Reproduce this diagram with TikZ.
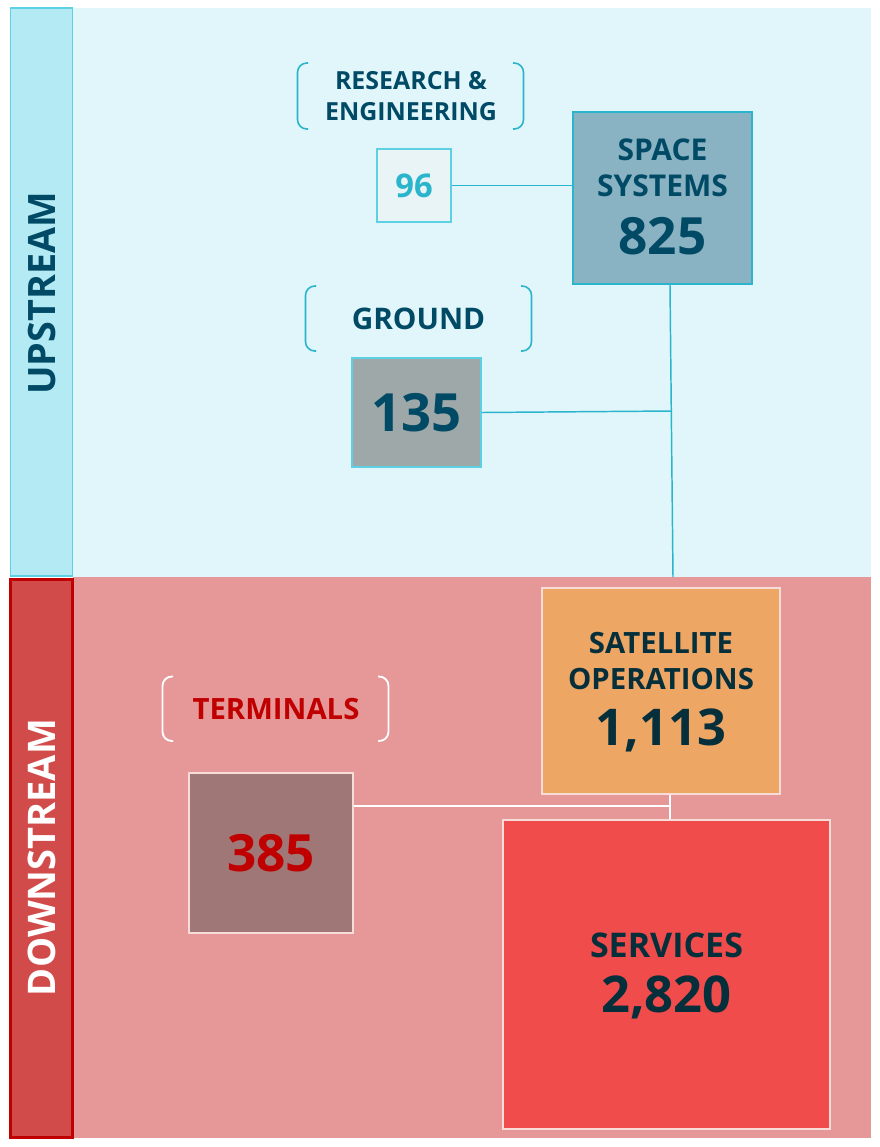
\documentclass[tikz,border=0pt]{standalone}
\usepackage{fontspec}
\setmainfont{Open Sans}
\usetikzlibrary{calc}
\definecolor{upbg}{HTML}{E0F6FA}
\definecolor{upbar}{HTML}{B3EAF3}
\definecolor{upbarline}{HTML}{5DD0E4}
\definecolor{lowbg}{HTML}{E69797}
\definecolor{downbar}{HTML}{D24B4B}
\definecolor{downbarline}{HTML}{C00000}
\definecolor{teal}{HTML}{2AB5CC}
\definecolor{darkteal}{HTML}{004A66}
\definecolor{navy}{HTML}{062F3C}
\definecolor{redtxt}{HTML}{C00000}
\definecolor{rfill}{HTML}{E8F4F6}
\definecolor{ssfill}{HTML}{89B3C3}
\definecolor{gfill}{HTML}{9EA8A8}
\definecolor{sofill}{HTML}{EEA665}
\definecolor{tfill}{HTML}{A07777}
\definecolor{svfill}{HTML}{F04C4C}
\definecolor{pale}{HTML}{F7DCD8}
\tikzset{
  boxnode/.style={rectangle, inner sep=0pt, align=center},
  upline/.style={draw=teal, line width=1.1pt},
  downline/.style={draw=white, line width=1.6pt},
  bracketup/.style={draw=teal, line width=1.2pt, rounded corners=7pt},
  bracketdown/.style={draw=white, line width=1.4pt, rounded corners=7pt},
  lbl/.style={text=darkteal, align=center}
}
\begin{document}
\begin{tikzpicture}[x=0.75pt,y=-0.75pt]
\useasboundingbox (0,0) rectangle (880,1147);
\fill[white] (0,0) rectangle (880,1147);
% backgrounds
\fill[upbg] (73,8) rectangle (871,577);
\fill[lowbg] (73,577) rectangle (871,1138);
\node[boxnode, fill=upbar, draw=upbarline, line width=1.2pt, minimum width={62*0.75pt}, minimum height={568*0.75pt}] (upbar) at (41.5,292) {};
\node[rotate=90, font=\bfseries\fontsize{28.3}{30}\selectfont, text=darkteal] (uptxt) at (42,293.5) {UPSTREAM};
\node[boxnode, fill=downbar, draw=downbarline, line width=1.6pt, minimum width={62*0.75pt}, minimum height={558*0.75pt}] (downbar) at (41.5,858.5) {};
\node[rotate=90, font=\bfseries\fontsize{28.5}{30}\selectfont, text=white] (downtxt) at (42,857.5) {DOWNSTREAM};
% research & engineering
\draw[bracketup] (308,63) -- (297.5,63) -- (297.5,129) -- (308,129);
\draw[bracketup] (513,63) -- (523.5,63) -- (523.5,129) -- (513,129);
\node[lbl, font=\bfseries\fontsize{18.7}{23.5}\selectfont] (rtxt) at (411,96) {RESEARCH \&\\ENGINEERING};
\node[boxnode, fill=rfill, draw=upbarline, line width=0.8pt, minimum width={74*0.75pt}, minimum height={73*0.75pt}, font=\bfseries\fontsize{24.5}{28}\selectfont, text=teal] (r) at (414,185.5) {96};
% space systems
\node[boxnode, fill=ssfill, draw=teal, line width=1.5pt, minimum width={179*0.75pt}, minimum height={172*0.75pt}] (ss) at (662.5,198) {};
\node[font=\bfseries\fontsize{22.5}{27}\selectfont, text=darkteal, align=center] (sstxt) at (662.5,168) {SPACE\\SYSTEMS};
\node[font=\bfseries\fontsize{38.5}{40}\selectfont, text=darkteal] (ssnum) at (662.5,236) {825};
% ground
\draw[bracketup] (316,286) -- (305.5,286) -- (305.5,351) -- (316,351);
\draw[bracketup] (521,286) -- (531.5,286) -- (531.5,351) -- (521,351);
\node[lbl, font=\bfseries\fontsize{22.3}{24}\selectfont] (gtxt) at (418.5,319) {GROUND};
\node[boxnode, fill=gfill, draw=upbarline, line width=0.8pt, minimum width={129*0.75pt}, minimum height={109*0.75pt}, font=\bfseries\fontsize{39.5}{40}\selectfont, text=darkteal] (g) at (416.5,412.5) {135};
% upstream connectors
\coordinate (vbot) at (673,577);
\coordinate (j1) at (671.5,411);
\draw[upline] (r.east) -- (r.east -| ss.west);
\draw[upline] ($(ss.south)+(7.5,0)$) -- (vbot);
\draw[upline] (g.east) -- (j1);
% downstream
\node[boxnode, fill=sofill, draw=pale, line width=0.8pt, minimum width={238*0.75pt}, minimum height={206*0.75pt}] (so) at (661,691) {};
\node[font=\bfseries\fontsize{22}{26.5}\selectfont, text=navy, align=center] (sotxt) at (661,661) {SATELLITE\\OPERATIONS};
\node[font=\bfseries\fontsize{38}{40}\selectfont, text=navy] (sonum) at (661,730) {1,113};
\draw[bracketdown] (173,676.5) -- (162.5,676.5) -- (162.5,741) -- (173,741);
\draw[bracketdown] (378,676.5) -- (388.5,676.5) -- (388.5,741) -- (378,741);
\node[font=\bfseries\fontsize{22}{24}\selectfont, text=redtxt] (ttxt) at (276,709) {TERMINALS};
\node[boxnode, fill=tfill, draw=pale, line width=0.8pt, minimum width={164*0.75pt}, minimum height={160*0.75pt}, font=\bfseries\fontsize{38.5}{40}\selectfont, text=redtxt] (t) at (271,853) {385};
\node[boxnode, fill=svfill, draw=pale, line width=0.8pt, minimum width={327*0.75pt}, minimum height={309*0.75pt}] (sv) at (666.5,974.5) {};
\node[font=\bfseries\fontsize{25.5}{28}\selectfont, text=navy] (svtxt) at (666.5,945) {SERVICES};
\node[font=\bfseries\fontsize{38}{40}\selectfont, text=navy] (svnum) at (666.5,997) {2,820};
\coordinate (j2) at (670,806);
\draw[downline] (t.east |- j2) -- (j2);
\draw[downline] (so.south -| j2) -- (sv.north -| j2);
\end{tikzpicture}
\end{document}
